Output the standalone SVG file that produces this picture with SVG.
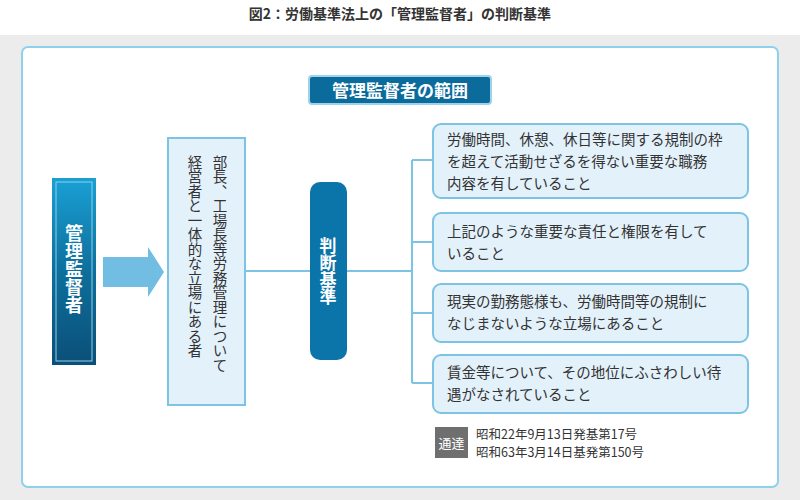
<svg xmlns="http://www.w3.org/2000/svg" width="800" height="500" viewBox="0 0 800 500">
<defs>
<linearGradient id="g1" x1="0" y1="0" x2="0" y2="1">
<stop offset="0" stop-color="#1aa0d4"/><stop offset="0.5" stop-color="#0d6f9c"/><stop offset="1" stop-color="#0b4f78"/>
</linearGradient>
<style>
text{font-family:"Noto Sans CJK JP","Noto Sans",sans-serif;}
.box{fill:#e3f1fb;stroke:#7dc3e3;stroke-width:2;}
.t{font-size:14.5px;fill:#333;}
.ln{stroke:#7dc3e3;stroke-width:2;fill:none;}
</style>
</defs>
<rect width="800" height="500" fill="#fff"/>
<rect x="0" y="35" width="800" height="465" fill="#ececec"/>
<rect x="22" y="47" width="756" height="440" rx="6" fill="#fff" stroke="#8fd0ec" stroke-width="2"/>
<text x="400" y="19" text-anchor="middle" font-size="14" font-weight="bold" fill="#333">図2：労働基準法上の「管理監督者」の判断基準</text>
<g id="header"><rect x="309" y="76" width="182" height="28" rx="3" fill="#0b6c9c" stroke="#9fd3ec" stroke-width="2"/>
<text x="400" y="97" text-anchor="middle" font-size="17" font-weight="bold" fill="#fff">管理監督者の範囲</text></g>
<g id="connectors">
<polygon points="103,257 148,257 148,247 164,272 148,297 148,287 103,287" fill="#72bde2"/>
<line class="ln" x1="245" y1="271" x2="310" y2="271"/>
<line class="ln" x1="347" y1="271" x2="412" y2="271"/>
<line class="ln" x1="412" y1="160" x2="412" y2="383"/>
<line class="ln" x1="412" y1="160" x2="433" y2="160"/>
<line class="ln" x1="412" y1="242" x2="433" y2="242"/>
<line class="ln" x1="412" y1="313" x2="433" y2="313"/>
<line class="ln" x1="412" y1="383" x2="433" y2="383"/>
</g>
<g id="kanri"><rect x="52" y="178" width="44" height="187" fill="url(#g1)"/>
<rect x="56" y="182" width="36" height="179" fill="none" stroke="#8fd0ec" stroke-width="1"/>
<text x="74" y="224" writing-mode="vertical-rl" font-size="18" font-weight="bold" fill="#fff">管理監督者</text></g>
<g id="middle"><rect class="box" x="168" y="138" width="77" height="267"/>
<text x="220" y="155" writing-mode="vertical-rl" class="t" font-size="14.5">部長、工場長等労務管理について</text>
<text x="195" y="155" writing-mode="vertical-rl" class="t" font-size="14.5">経営者と一体的な立場にある者</text></g>
<g id="handan"><rect x="310" y="182" width="37" height="178" rx="10" fill="#0b74a8"/>
<text x="328" y="237" writing-mode="vertical-rl" font-size="17" font-weight="bold" fill="#fff">判断基準</text></g>
<g id="c1"><rect class="box" x="433" y="124" width="315" height="74" rx="8"/>
<text class="t" x="447" y="145">労働時間、休憩、休日等に関する規制の枠</text>
<text class="t" x="447" y="167">を超えて活動せざるを得ない重要な職務</text>
<text class="t" x="447" y="189">内容を有していること</text></g>
<g id="c2"><rect class="box" x="433" y="213" width="315" height="58" rx="8"/>
<text class="t" x="447" y="237">上記のような重要な責任と権限を有して</text>
<text class="t" x="447" y="259">いること</text></g>
<g id="c3"><rect class="box" x="433" y="284" width="315" height="58" rx="8"/>
<text class="t" x="447" y="307">現実の勤務態様も、労働時間等の規制に</text>
<text class="t" x="447" y="329">なじまないような立場にあること</text></g>
<g id="c4"><rect class="box" x="433" y="355" width="315" height="58" rx="8"/>
<text class="t" x="447" y="378">賃金等について、その地位にふさわしい待</text>
<text class="t" x="447" y="400">遇がなされていること</text></g>
<g id="tsutatsu"><rect x="435" y="427" width="33" height="31" fill="#6f6f6f"/>
<text x="451.5" y="448" text-anchor="middle" font-size="13" fill="#fff">通達</text>
<text x="476" y="439" font-size="12.5" fill="#333">昭和22年9月13日発基第17号</text>
<text x="476" y="457" font-size="12.5" fill="#333">昭和63年3月14日基発第150号</text></g>
</svg>
